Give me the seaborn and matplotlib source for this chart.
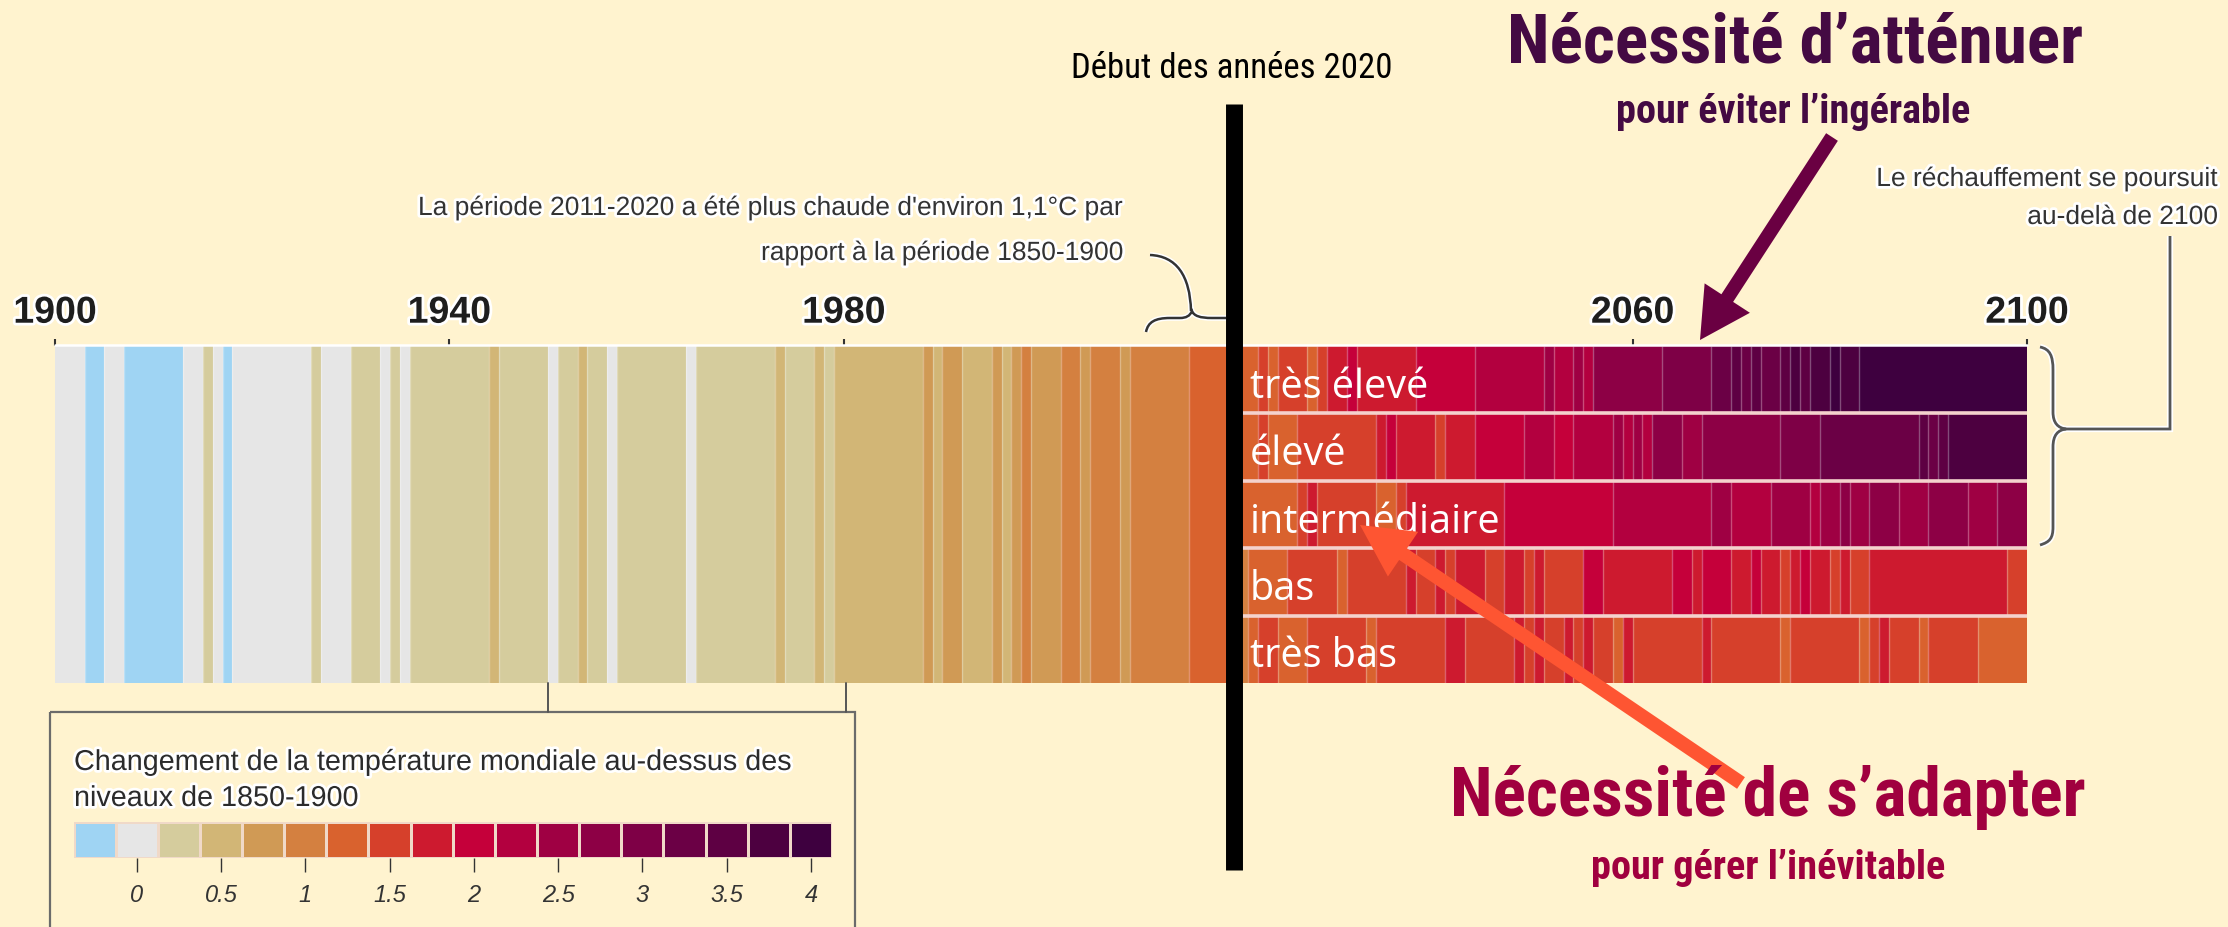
import numpy as np
import pandas as pd
import matplotlib
matplotlib.use("Agg")
import matplotlib.pyplot as plt
import seaborn as sns
from matplotlib import font_manager as fm
from matplotlib.colors import ListedColormap
from matplotlib.patches import FancyArrow, Rectangle, PathPatch
from matplotlib.path import Path
import matplotlib.patheffects as pe

# ---------------- data ----------------
hist_years = list(range(1900, 2020))
hist_anomaly = [
    0, 0, 0, -0.25, -0.25, 0, 0, -0.25, -0.25, -0.25,
    -0.25, -0.25, -0.25, 0, 0, 0.25, 0, -0.25, 0, 0,
    0, 0, 0, 0, 0, 0, 0.25, 0, 0, 0,
    0.25, 0.25, 0.25, 0, 0.25, 0, 0.25, 0.25, 0.25, 0.25,
    0.25, 0.25, 0.25, 0.25, 0.5, 0.25, 0.25, 0.25, 0.25, 0.25,
    0, 0.25, 0.25, 0.5, 0.25, 0.25, 0, 0.25, 0.25, 0.25,
    0.25, 0.25, 0.25, 0.25, 0, 0.25, 0.25, 0.25, 0.25, 0.25,
    0.25, 0.25, 0.25, 0.5, 0.25, 0.25, 0.25, 0.5, 0.25, 0.5,
    0.5, 0.5, 0.5, 0.5, 0.5, 0.5, 0.5, 0.5, 0.75, 0.5,
    0.75, 0.75, 0.5, 0.5, 0.5, 0.75, 0.5, 0.75, 1.0, 0.75,
    0.75, 0.75, 1.0, 1.0, 0.75, 1.0, 1.0, 1.0, 0.75, 1.0,
    1.0, 1.0, 1.0, 1.0, 1.0, 1.25, 1.25, 1.25, 1.25, 1.25,
]

scenario_years = list(range(2020, 2100))
scenario_names = ["très élevé", "élevé", "intermédiaire", "bas", "très bas"]
tres_eleve = [
    1.25, 1.25, 1.5, 1.25, 1.5, 1.5, 1.5, 1.25, 1.5, 1.75,
    1.75, 2.0, 1.75, 1.75, 1.75, 1.75, 1.75, 1.75, 2.0, 2.0,
    2.0, 2.0, 2.0, 2.0, 2.25, 2.25, 2.25, 2.25, 2.25, 2.25,
    2.25, 2.5, 2.25, 2.25, 2.5, 2.25, 2.75, 2.75, 2.75, 2.75,
    2.75, 2.75, 2.75, 3.0, 3.0, 3.0, 3.0, 3.0, 3.25, 3.25,
    3.5, 3.25, 3.5, 3.25, 3.25, 3.5, 3.75, 3.5, 3.75, 3.75,
    4.0, 3.75, 3.75, 4.0, 4.0, 4.0, 4.0, 4.0, 4.0, 4.0,
    4.0, 4.0, 4.0, 4.0, 4.0, 4.0, 4.0, 4.0, 4.0, 4.0,
]
eleve = [
    1.25, 1.25, 1.5, 1.25, 1.25, 1.25, 1.5, 1.5, 1.5, 1.5,
    1.5, 1.5, 1.5, 1.5, 1.75, 2.0, 1.75, 1.75, 1.75, 1.75,
    1.5, 1.75, 1.75, 1.75, 2.0, 2.0, 2.0, 2.0, 2.0, 2.25,
    2.25, 2.25, 2.0, 2.0, 2.25, 2.25, 2.25, 2.25, 2.5, 2.25,
    2.5, 2.25, 2.75, 2.75, 2.75, 2.5, 2.5, 2.75, 2.75, 2.75,
    2.75, 2.75, 2.75, 2.75, 2.75, 3.0, 3.0, 3.0, 3.0, 3.25,
    3.25, 3.25, 3.25, 3.25, 3.25, 3.25, 3.25, 3.25, 3.25, 3.5,
    3.25, 3.5, 3.75, 3.75, 3.75, 3.75, 3.75, 3.75, 3.75, 3.75,
]
intermediaire = [
    1.25, 1.25, 1.25, 1.25, 1.25, 1.25, 1.5, 1.75, 1.5, 1.5,
    1.5, 1.5, 1.5, 1.5, 1.25, 1.25, 1.5, 1.75, 1.75, 1.75,
    1.75, 1.75, 1.75, 1.75, 1.75, 1.75, 1.75, 2.0, 2.0, 2.0,
    2.0, 2.0, 2.0, 2.0, 2.0, 2.0, 2.0, 2.0, 2.25, 2.25,
    2.25, 2.25, 2.25, 2.25, 2.25, 2.25, 2.25, 2.25, 2.5, 2.5,
    2.25, 2.25, 2.25, 2.25, 2.5, 2.5, 2.5, 2.5, 2.25, 2.5,
    2.5, 2.75, 2.5, 2.5, 2.75, 2.75, 2.75, 2.5, 2.5, 2.5,
    2.75, 2.75, 2.75, 2.75, 2.5, 2.5, 2.5, 2.75, 2.75, 2.75,
]
bas = [
    1.0, 1.25, 1.25, 1.25, 1.25, 1.5, 1.5, 1.5, 1.5, 1.5,
    1.25, 1.5, 1.5, 1.5, 1.5, 1.5, 1.5, 1.75, 1.5, 1.5,
    1.75, 1.5, 1.75, 1.75, 1.75, 1.5, 1.5, 1.75, 1.75, 1.5,
    1.75, 1.5, 1.5, 1.5, 1.5, 2.0, 2.0, 1.75, 1.75, 1.75,
    1.75, 1.75, 1.75, 1.75, 2.0, 2.0, 1.75, 2.0, 2.0, 2.0,
    1.75, 1.75, 2.0, 1.75, 1.75, 1.5, 1.75, 2.0, 1.75, 1.75,
    1.5, 1.75, 1.5, 1.5, 1.75, 1.75, 1.75, 1.75, 1.75, 1.75,
    1.75, 1.75, 1.75, 1.75, 1.75, 1.75, 1.75, 1.75, 1.5, 1.5,
]
tres_bas = [
    1.0, 1.25, 1.5, 1.5, 1.25, 1.25, 1.25, 1.5, 1.5, 1.5,
    1.5, 1.5, 1.5, 1.25, 1.5, 1.5, 1.5, 1.5, 1.5, 1.5,
    1.5, 1.75, 1.75, 1.5, 1.5, 1.5, 1.5, 1.5, 1.75, 1.5,
    1.75, 1.5, 1.5, 1.75, 1.5, 1.75, 1.5, 1.5, 1.25, 1.75,
    1.5, 1.5, 1.5, 1.5, 1.5, 1.5, 1.5, 1.75, 1.5, 1.5,
    1.5, 1.5, 1.5, 1.5, 1.5, 1.25, 1.5, 1.5, 1.5, 1.5,
    1.5, 1.5, 1.5, 1.25, 1.5, 1.75, 1.5, 1.5, 1.5, 1.25,
    1.5, 1.5, 1.5, 1.5, 1.5, 1.25, 1.25, 1.25, 1.25, 1.25,
]

tick_years = [1900, 1940, 1980, 2060, 2100]

legend_values = [-0.25, 0, 0.25, 0.5, 0.75, 1.0, 1.25, 1.5, 1.75,
                 2.0, 2.25, 2.5, 2.75, 3.0, 3.25, 3.5, 3.75, 4.0]
legend_colors = ['#9fd4f3', '#e6e6e6', '#d5cc9d', '#d2b676', '#d09a55',
                 '#d48040', '#d9622e', '#d6402b', '#cd1a2f', '#c5003a',
                 '#b3003f', '#9f0043', '#8d0045', '#7e0046', '#6b0045',
                 '#5e0043', '#4d0040', '#3e003f']
legend_ticks = [0, 0.5, 1, 1.5, 2, 2.5, 3, 3.5, 4]
legend_ticklabels = ["0", "0.5", "1", "1.5", "2", "2.5", "3", "3.5", "4"]

# ---------------- style ----------------
sns.set_theme(style="white")
plt.rcParams['font.family'] = ['Liberation Sans', 'DejaVu Sans']


def pick_condensed():
    """Find a condensed family if one is installed; return kwargs and width factor."""
    fonts = fm.fontManager.ttflist
    fams = {f.name for f in fonts}
    for fam, w in [('Roboto Condensed', 0.82), ('Liberation Sans Narrow', 0.82),
                   ('Open Sans Condensed', 0.80), ('Noto Sans Condensed', 0.86),
                   ('DejaVu Sans Condensed', 1.0)]:
        if fam in fams:
            return dict(family=[fam, 'DejaVu Sans']), w
    for fam, w in [('Noto Sans', 0.86), ('Open Sans', 0.86), ('Roboto', 0.82),
                   ('Inter', 0.86)]:
        for f in fonts:
            st = f.stretch
            cond = (isinstance(st, str) and 'condensed' in st) or \
                   (isinstance(st, (int, float)) and st < 500)
            if f.name == fam and cond:
                return dict(family=[fam, 'DejaVu Sans'], fontstretch='condensed'), w
    return dict(family=['Liberation Sans', 'DejaVu Sans']), 1.0


COND, CW = pick_condensed()


def csize(s):
    return s * 0.82 / CW


BG = '#fff3cf'
W, H = 2228, 927
fig = plt.figure(figsize=(W / 100, H / 100), dpi=100, facecolor=BG)


def rect(x0, y0, x1, y1):
    return [x0 / W, 1 - y1 / H, (x1 - x0) / W, (y1 - y0) / H]


cmap = ListedColormap(legend_colors)
VMIN, VMAX = -0.375, 4.125
X0, PX = 55.0, 9.86          # pixel of 1900 and pixels per year
XH = X0 + len(hist_years) * PX
XS = XH + len(scenario_years) * PX
Y_TOP, Y_BOT = 346, 683
halo = [pe.withStroke(linewidth=4, foreground='white')]

# ---------------- historical stripes ----------------
ax_h = fig.add_axes(rect(X0, Y_TOP, XH, Y_BOT))
hist_df = pd.DataFrame([hist_anomaly], columns=hist_years, index=["historique"])
sns.heatmap(hist_df, ax=ax_h, cmap=cmap, vmin=VMIN, vmax=VMAX, cbar=False,
            xticklabels=False, yticklabels=False)
for i in range(1, len(hist_anomaly)):
    if hist_anomaly[i] != hist_anomaly[i - 1]:
        ax_h.axvline(i, color='white', alpha=0.3, lw=1)
h_ticks = [t for t in tick_years if t < scenario_years[0]]
ax_h.set_xticks([t - hist_years[0] for t in h_ticks])
ax_h.set_xticklabels([str(t) for t in h_ticks])

# ---------------- scenario stripes ----------------
ax_s = fig.add_axes(rect(XH, Y_TOP, XS, Y_BOT))
scen_df = pd.DataFrame([tres_eleve, eleve, intermediaire, bas, tres_bas],
                       index=scenario_names, columns=scenario_years)
sns.heatmap(scen_df, ax=ax_s, cmap=cmap, vmin=VMIN, vmax=VMAX, cbar=False,
            xticklabels=False, yticklabels=False)
for r, row in enumerate(scen_df.values):
    for i in range(1, len(row)):
        if row[i] != row[i - 1]:
            ax_s.vlines(i, r, r + 1, color='white', alpha=0.3, lw=1)
ax_s.hlines(range(1, len(scenario_names)), 0, len(scenario_years),
            color='#f4d2cd', lw=2.6)
for r, name in enumerate(scenario_names):
    ax_s.text(1.2, r + 0.77, name, color='white', fontsize=28.5,
              family=['Open Sans', 'DejaVu Sans'], fontweight='medium',
              ha='left', va='baseline')
s_ticks = [t for t in tick_years if t >= scenario_years[0]]
ax_s.set_xticks([t - scenario_years[0] for t in s_ticks])
ax_s.set_xticklabels([str(t) for t in s_ticks])

for ax in (ax_h, ax_s):
    ax.xaxis.tick_top()
    ax.tick_params(axis='x', top=True, bottom=False, labeltop=True,
                   labelbottom=False, length=5, width=1.5, color='#333333',
                   pad=6, labelsize=27, labelcolor='#1e1e1e')
    for lab in ax.get_xticklabels():
        lab.set_fontweight('bold')
        lab.set_path_effects(halo)
    ax.set_ylabel('')
    ax.set_xlabel('')

# ---------------- legend colour bar ----------------
ax_l = fig.add_axes(rect(73.5, 822, 832, 858))
leg_df = pd.DataFrame([legend_values], columns=legend_values)
sns.heatmap(leg_df, ax=ax_l, cmap=cmap, vmin=VMIN, vmax=VMAX, cbar=False,
            xticklabels=False, yticklabels=False, linewidths=0.8,
            linecolor='#f0d9c8')
ax_l.set_xticks([legend_values.index(v) + 0.5 for v in legend_ticks])
ax_l.set_xticklabels(legend_ticklabels, fontstyle='italic')
ax_l.tick_params(axis='x', bottom=True, top=False, length=10, width=1,
                 color='#333333', pad=9, labelsize=17, labelcolor='#333333')
ax_l.set_xlabel('')
ax_l.set_ylabel('')

# ---------------- overlay annotations ----------------
ax_o = fig.add_axes([0, 0, 1, 1])
ax_o.set_xlim(0, W)
ax_o.set_ylim(H, 0)
ax_o.axis('off')
ax_o.patch.set_alpha(0)

# white axis line on top of the stripes
ax_o.plot([X0, XS], [344.5, 344.5], color='white', lw=1.8, zorder=1)

# legend box and its connectors
ax_o.add_patch(Rectangle((50, 712), 805, 260, fill=False, edgecolor='#6b6b6b', lw=1.6))
ax_o.plot([548, 548], [683, 712], color='#555555', lw=1.4)
ax_o.plot([846, 846], [683, 712], color='#555555', lw=1.4)
ax_o.text(74, 762, "Changement de la température mondiale au-dessus des",
          fontsize=20.7, color='#2b2b2b', ha='left', va='center',
          path_effects=halo)
ax_o.text(74, 798, "niveaux de 1850-1900", fontsize=20.7,
          color='#2b2b2b', ha='left', va='center', path_effects=halo)

# early-2020s black line
ax_o.plot([1233.5, 1233.5], [104, 870], color='black', lw=12.2,
          solid_capstyle='butt', zorder=5)
ax_o.text(1232, 68, "Début des années 2020", fontsize=csize(25), **COND,
          color='black', ha='center', va='center')

# 2011-2020 annotation
ax_o.text(1123, 208, "La période 2011-2020 a été plus chaude d'environ 1,1°C par",
          fontsize=19, color='#333333', ha='right', va='center',
          path_effects=halo)
ax_o.text(1123, 253, "rapport à la période 1850-1900", fontsize=19,
          color='#333333', ha='right', va='center', path_effects=halo)
brace1 = Path(
    [(1150, 255), (1176, 256), (1190, 275), (1191, 311),
     (1146, 332), (1148, 322), (1155, 318), (1170, 318),
     (1180, 318), (1186, 318), (1190, 316), (1192, 311),
     (1194, 316), (1200, 318), (1212, 318), (1226, 318)],
    [Path.MOVETO, Path.CURVE4, Path.CURVE4, Path.CURVE4,
     Path.MOVETO, Path.CURVE4, Path.CURVE4, Path.CURVE4,
     Path.LINETO, Path.CURVE4, Path.CURVE4, Path.CURVE4,
     Path.CURVE4, Path.CURVE4, Path.CURVE4, Path.LINETO])
ax_o.add_patch(PathPatch(brace1, fill=False, edgecolor='#333333', lw=1.8,
                         path_effects=[pe.withStroke(linewidth=4, foreground='white')]))

# warming continues beyond 2100
ax_o.text(2218, 179, "Le réchauffement se poursuit", fontsize=19,
          color='#333333', ha='right', va='center', path_effects=halo)
ax_o.text(2218, 217, "au-delà de 2100", fontsize=19,
          color='#333333', ha='right', va='center', path_effects=halo)
brace2 = Path(
    [(2040, 347), (2050, 349), (2053, 356), (2053, 370),
     (2053, 412), (2053, 423), (2058, 428), (2066, 429),
     (2058, 430), (2053, 435), (2053, 447),
     (2053, 527), (2053, 538), (2050, 542), (2040, 545),
     (2066, 429), (2170, 429), (2170, 236)],
    [Path.MOVETO, Path.CURVE4, Path.CURVE4, Path.CURVE4,
     Path.LINETO, Path.CURVE4, Path.CURVE4, Path.CURVE4,
     Path.CURVE4, Path.CURVE4, Path.CURVE4,
     Path.LINETO, Path.CURVE4, Path.CURVE4, Path.CURVE4,
     Path.MOVETO, Path.LINETO, Path.LINETO])
ax_o.add_patch(PathPatch(brace2, fill=False, edgecolor='#555555', lw=2,
                         path_effects=[pe.withStroke(linewidth=4.5, foreground='white')]))

# headline messages and arrows
ax_o.text(1795, 44, "Nécessité d’atténuer", fontsize=csize(50), fontweight='bold',
          **COND, color='#440a43', ha='center', va='center')
ax_o.text(1793, 112, "pour éviter l’ingérable", fontsize=csize(29), fontweight='bold',
          **COND, color='#440a43', ha='center', va='center')
ax_o.add_patch(FancyArrow(1832, 137, 1700 - 1832, 340 - 137, width=14,
                          head_width=54, head_length=50,
                          length_includes_head=True, color='#6a0042', lw=0))

ax_o.text(1768, 797, "Nécessité de s’adapter", fontsize=csize(50), fontweight='bold',
          **COND, color='#a0003f', ha='center', va='center')
ax_o.text(1768, 868, "pour gérer l’inévitable", fontsize=csize(29), fontweight='bold',
          **COND, color='#a0003f', ha='center', va='center')
ax_o.add_patch(FancyArrow(1741, 783, 1360 - 1741, 525 - 783, width=14,
                          head_width=54, head_length=52,
                          length_includes_head=True, color='#fe5532', lw=0))

fig.savefig("out.png", dpi=100, facecolor=BG)
